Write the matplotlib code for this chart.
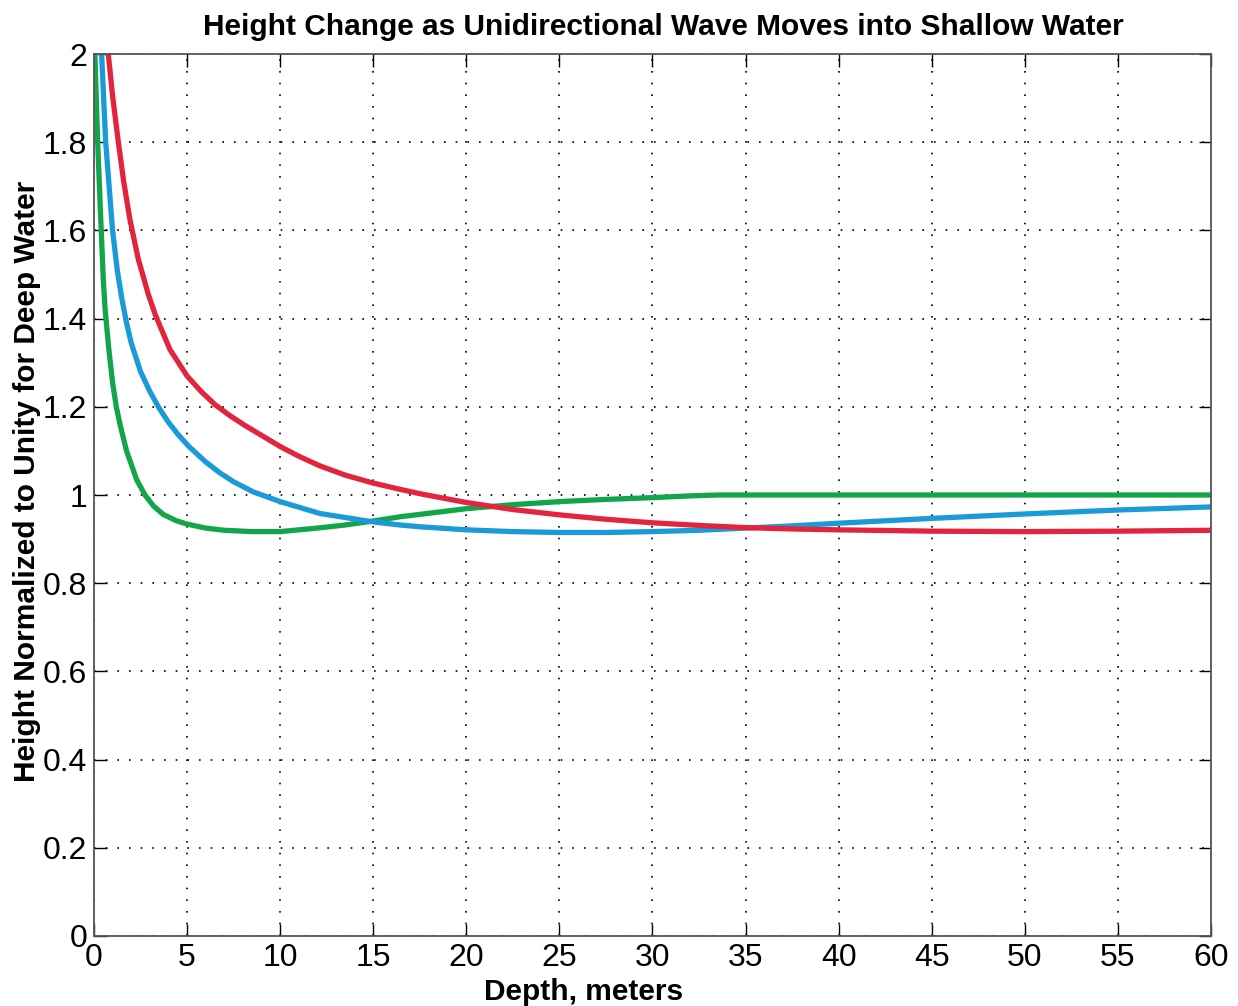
import matplotlib.pyplot as plt
from matplotlib.ticker import FormatStrFormatter, MultipleLocator

# Values (depth in metres, normalised height)
green_depth = [0.02, 0.05, 0.2, 0.35, 0.5, 0.6, 0.8, 1.0, 1.2, 1.4, 1.75, 2.29, 2.74, 3.2, 3.72,
               4.4, 5.0, 6.0, 7.0, 8.5, 10.0, 12.0, 13.5, 15.0, 16.5, 17.5, 20.0, 22.5, 25.0,
               27.5, 30.0, 32.0, 33.5, 45.0, 60.0]
green_height = [2.25, 2.0, 1.8, 1.64, 1.49, 1.42, 1.33, 1.255, 1.2, 1.16, 1.1, 1.035, 1.0, 0.975, 0.956,
                0.942, 0.934, 0.925, 0.92, 0.917, 0.917, 0.925, 0.932, 0.941, 0.951, 0.956, 0.969, 0.978, 0.985,
                0.990, 0.994, 0.998, 1.0, 1.0, 1.0]

blue_depth = [0.33, 0.41, 0.63, 1.0, 1.25, 1.5, 1.75, 2.0, 2.5, 3.0, 3.5, 4.0, 4.5, 5.1, 6.0,
              6.77, 7.5, 8.56, 10.0, 12.14, 15.0, 16.43, 17.5, 20.0, 22.5, 25.0, 27.5, 30.0,
              32.5, 35.0, 37.5, 40.0, 45.0, 50.0, 55.0, 60.0]
blue_height = [2.15, 2.0, 1.8, 1.6, 1.51, 1.445, 1.39, 1.345, 1.28, 1.235, 1.197, 1.165, 1.138, 1.11, 1.075,
               1.05, 1.03, 1.007, 0.985, 0.958, 0.939, 0.932, 0.928, 0.921, 0.917, 0.915, 0.915, 0.917,
               0.920, 0.925, 0.930, 0.936, 0.947, 0.957, 0.966, 0.973]

red_depth = [0.7, 0.77, 1.0, 1.31, 1.6, 1.93, 2.38, 2.92, 3.3, 4.08, 5.0, 5.75, 6.5, 7.3, 8.1,
             10.0, 11.0, 12.14, 13.5, 15.0, 16.43, 17.5, 20.0, 22.5, 25.0, 27.5, 30.0, 32.5, 35.0,
             37.5, 40.0, 45.0, 50.0, 55.0, 60.0]
red_height = [2.08, 2.0, 1.905, 1.8, 1.71, 1.625, 1.535, 1.455, 1.408, 1.33, 1.27, 1.235, 1.205, 1.18, 1.158,
              1.11, 1.088, 1.066, 1.045, 1.027, 1.013, 1.003, 0.983, 0.967, 0.955, 0.945, 0.937, 0.931, 0.926,
              0.923, 0.921, 0.918, 0.917, 0.918, 0.92]

plt.rcParams['font.family'] = ['Liberation Sans', 'DejaVu Sans']

fig = plt.figure(figsize=(12.38, 10.06), dpi=100)
ax = fig.add_axes([0.0759, 0.0696, 0.9023, 0.8767])

ax.plot(green_depth, green_height, color='#13a54a', linewidth=3.8, solid_joinstyle='round')
ax.plot(blue_depth, blue_height, color='#1b9ad8', linewidth=3.8, solid_joinstyle='round')
ax.plot(red_depth, red_height, color='#e2243c', linewidth=3.8, solid_joinstyle='round')

ax.set_xlim(0, 60)
ax.set_ylim(0, 2)
ax.xaxis.set_major_locator(MultipleLocator(5))
ax.yaxis.set_major_locator(MultipleLocator(0.2))
ax.yaxis.set_major_formatter(FormatStrFormatter('%g'))

# dotted grid like the original
ax.grid(True, color='black', linestyle=(0, (1, 6)), linewidth=1.2)
ax.tick_params(direction='in', length=9, width=1, top=True, right=True,
               labelsize=23, pad=5)
for sp in ax.spines.values():
    sp.set_color('#555555')
    sp.set_linewidth(1.3)

ax.set_title('Height Change as Unidirectional Wave Moves into Shallow Water',
             fontsize=21.5, fontweight='bold', pad=14, x=0.51)
ax.set_xlabel('Depth, meters', fontsize=21.5, fontweight='bold', labelpad=2)
ax.set_ylabel('Height Normalized to Unity for Deep Water', fontsize=21.5, fontweight='bold')
ax.xaxis.set_label_coords(0.438, -0.048)
ax.yaxis.set_label_coords(-0.047, 0.515)

fig.savefig('out.png', dpi=100)
